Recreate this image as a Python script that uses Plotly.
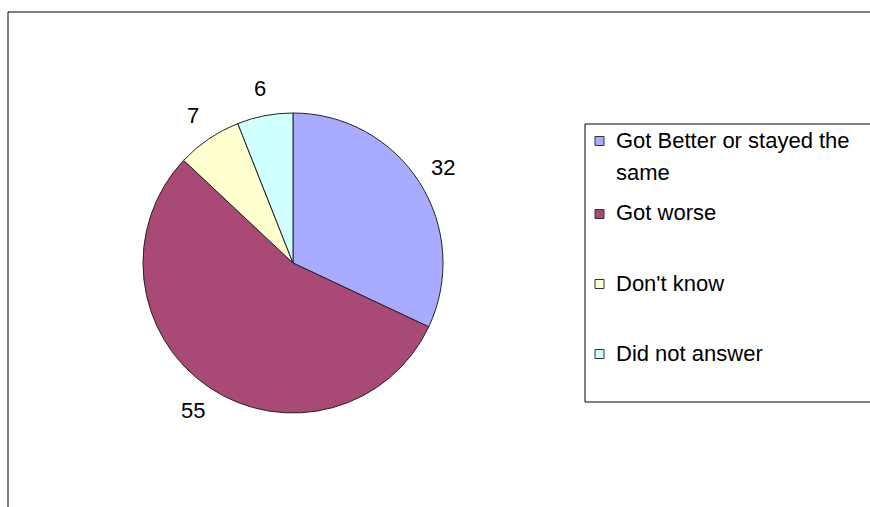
import math
import plotly.graph_objects as go

labels = ["Got Better or stayed the same", "Got worse", "Don't know", "Did not answer"]
legend_lines = [["Got Better or stayed the", "same"], ["Got worse"], ["Don't know"], ["Did not answer"]]
values = [32, 55, 7, 6]
colors = ["#A8ABFF", "#A94A76", "#FFFFD0", "#D0FFFF"]

W, H = 870, 507
FONT = "Liberation Sans, Arial, sans-serif"

# pie geometry in pixels
CX, CY, R = 293, 263, 150
LABEL_R = 178

fig = go.Figure()
fig.add_trace(go.Pie(
    labels=labels,
    values=values,
    sort=False,
    direction="clockwise",
    rotation=0,
    marker=dict(colors=colors, line=dict(color="#222222", width=1)),
    textinfo="none",
    domain=dict(x=[(CX - R) / W, (CX + R) / W], y=[1 - (CY + R) / H, 1 - (CY - R) / H]),
    showlegend=False,
    hoverinfo="label+value",
))

shapes = [
    # chart-area frame (top and left edges)
    dict(type="line", xref="paper", yref="paper", x0=8 / W, x1=1.01, y0=1 - 12 / H, y1=1 - 12 / H,
         line=dict(color="black", width=1)),
    dict(type="line", xref="paper", yref="paper", x0=8 / W, x1=8 / W, y0=1 - 12 / H, y1=-0.01,
         line=dict(color="black", width=1)),
    # legend box
    dict(type="rect", xref="paper", yref="paper", x0=585 / W, x1=1.01, y0=1 - 402 / H, y1=1 - 124 / H,
         line=dict(color="black", width=1), fillcolor="rgba(0,0,0,0)"),
]
annotations = []

# value labels outside each slice, along the slice's mid-angle
total = sum(values)
cum = 0
for v in values:
    theta = 2 * math.pi * (cum + v / 2) / total
    cum += v
    px = CX + LABEL_R * math.sin(theta)
    py = CY - LABEL_R * math.cos(theta)
    annotations.append(dict(xref="paper", yref="paper", x=px / W, y=1 - py / H,
                            text=str(v), showarrow=False, xanchor="center", yanchor="middle",
                            font=dict(family=FONT, size=22, color="black")))

# legend entries: first-line centre rows in pixels
row_y = [140, 213, 283, 353]
line_gap = 33
for lines, color, yc in zip(legend_lines, colors, row_y):
    shapes.append(dict(type="rect", xref="paper", yref="paper",
                       x0=595 / W, x1=604 / W, y0=1 - (yc + 5.5) / H, y1=1 - (yc - 3.5) / H,
                       line=dict(color="#333333", width=1), fillcolor=color))
    for i, txt in enumerate(lines):
        annotations.append(dict(xref="paper", yref="paper", x=614 / W, y=1 - (yc + i * line_gap) / H,
                                text=txt, showarrow=False, xanchor="left", yanchor="middle",
                                font=dict(family=FONT, size=22, color="black")))

fig.update_layout(
    width=W, height=H,
    margin=dict(l=0, r=0, t=0, b=0),
    paper_bgcolor="white", plot_bgcolor="white",
    shapes=shapes, annotations=annotations,
)

fig.write_html("out.html")
